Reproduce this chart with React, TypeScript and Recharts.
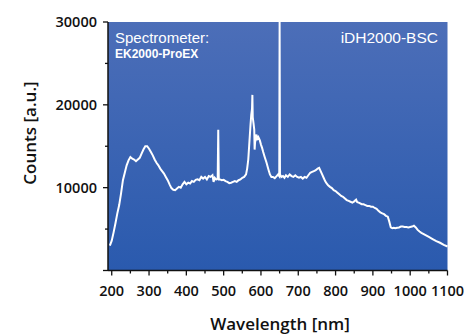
import { LineChart, Line, XAxis, YAxis, CartesianGrid } from "recharts";

// wavelength [nm] and counts
const wavelengths = [
  195, 200, 205, 210, 215, 220, 225, 230, 235, 240, 245, 250, 255, 260, 265, 270, 275, 280, 285, 290,
  295, 300, 305, 310, 315, 320, 325, 330, 335, 340, 345, 350, 355, 360, 365, 370, 375, 380, 385, 390,
  395, 400, 405, 410, 415, 420, 425, 430, 435, 440, 445, 450, 455, 460, 465, 470, 473, 476, 480, 484,
  485.5, 487, 490, 495, 500, 505, 510, 515, 520, 525, 530, 535, 540, 545, 550, 555, 560, 563, 566, 569,
  572, 574, 576, 577, 578, 580, 582, 583, 585, 588, 590, 593, 597, 600, 603, 606, 610, 615, 620, 624,
  628, 632, 637, 642, 646, 649, 650, 651, 655, 659, 663, 667, 672, 677, 682, 687, 692, 697, 702, 707,
  712, 717, 722, 727, 732, 737, 742, 747, 752, 756, 760, 764, 768, 772, 776, 780, 785, 790, 795, 800,
  805, 810, 815, 820, 825, 830, 835, 840, 845, 850, 855, 858, 862, 866, 870, 875, 880, 885, 890, 895,
  900, 905, 910, 915, 920, 925, 930, 935, 940, 944, 948, 952, 956, 960, 965, 970, 975, 980, 985, 990,
  995, 1000, 1005, 1010, 1015, 1020, 1025, 1030, 1040, 1050, 1060, 1070, 1080, 1090, 1100,
];
const counts = [
  3000, 3600, 4600, 5700, 6900, 7900, 9300, 10900, 11800, 12700, 13300, 13700, 13500, 13400, 13200, 13400, 13600, 14100, 14600, 15000,
  15000, 14700, 14300, 13900, 13400, 13000, 12700, 12300, 12000, 11700, 11300, 10900, 10400, 9950, 9750, 9700, 9900, 10100, 10000, 10400,
  10700, 10400, 10600, 10500, 10800, 10700, 10950, 11000, 10900, 11300, 11100, 11300, 11000, 11400, 11300, 11500, 10700, 11200, 11000, 11100,
  17000, 11000, 11000, 10900, 10950, 10800, 10700, 10550, 10600, 10700, 10800, 10700, 10900, 11000, 11200, 11300, 11600, 12300, 13400, 15500,
  17600, 18800, 19500, 21200, 18500, 17800, 17000, 14600, 16000, 16400, 15900, 16100, 15700, 15200, 14800, 14300, 13700, 13000, 12200, 11600,
  11300, 11300, 11150, 11400, 11600, 11400, 30000, 11600, 11300, 11400, 11200, 11500, 11300, 11600, 11400, 11300, 11500, 11300, 11200, 11300,
  11100, 11300, 11200, 11500, 11800, 11900, 12000, 12100, 12300, 12400, 12000, 11600, 11200, 10800, 10500, 10300, 10100, 9950, 9700, 9600,
  9400, 9200, 9000, 8900, 8700, 8500, 8400, 8300, 8200, 8350, 8550, 8250, 8200, 8100, 8000, 8000, 7900, 7800, 7800, 7700,
  7700, 7550, 7450, 7200, 7000, 6900, 6800, 6600, 6500, 5900, 5200, 5100, 5150, 5100, 5150, 5200, 5300, 5300, 5250, 5250,
  5200, 5250, 5300, 5400, 5200, 4900, 4700, 4550, 4300, 4050, 3800, 3550, 3350, 3100, 2900,
];
const xTicks = [200, 250, 300, 350, 400, 450, 500, 550, 600, 650, 700, 750, 800, 850, 900, 950, 1000, 1050, 1100];
const yTicks = [0, 5000, 10000, 15000, 20000, 25000, 30000];
const yLabeled = [10000, 20000, 30000];

const data = wavelengths.map((w, i) => ({ wl: w, counts: counts[i] }));

const tickFont = { fontFamily: "'Open Sans', sans-serif", fontWeight: 600, fontSize: 14.5, fill: "#111" };
const noteFont = { fontFamily: "'Liberation Sans', Arial, sans-serif", fill: "#fff" };

function XTick({ x, y, payload }: any) {
  const major = payload.value % 100 === 0;
  return (
    <g>
      <line x1={x} x2={x} y1={y} y2={y + (major ? 5 : 3)} stroke="#111" strokeWidth={1.3} />
      {major && (
        <text x={x} y={y + 25} textAnchor="middle" style={tickFont}>
          {payload.value}
        </text>
      )}
    </g>
  );
}

function YTick({ x, y, payload }: any) {
  const major = payload.value % 10000 === 0;
  return (
    <g>
      <line x1={x} x2={x - (major ? 5 : 3)} y1={y} y2={y} stroke="#111" strokeWidth={1.3} />
      {yLabeled.includes(payload.value) && (
        <text x={x - 11} y={y + 5} textAnchor="end" style={tickFont}>
          {payload.value}
        </text>
      )}
    </g>
  );
}

export default function App() {
  return (
    <div style={{ position: "absolute", left: 0, top: 0 }}>
      <LineChart width={464} height={336} data={data} margin={{ top: 22, right: 16.5, bottom: 0, left: 0 }}>
        <defs>
          <linearGradient id="bg" x1="0" y1="0" x2="0" y2="1">
            <stop offset="0%" stopColor="#4c6eb8" />
            <stop offset="100%" stopColor="#2a5aae" />
          </linearGradient>
        </defs>
        <CartesianGrid fill="url(#bg)" horizontal={false} vertical={false} />
        <XAxis
          dataKey="wl"
          type="number"
          domain={[190, 1100]}
          ticks={xTicks}
          interval={0}
          height={65.5}
          tickSize={0}
          tickMargin={0}
          tickLine={false}
          tick={<XTick />}
          axisLine={{ stroke: "#111", strokeWidth: 1.5 }}
        />
        <XAxis xAxisId="top" orientation="top" dataKey="wl" type="number" domain={[190, 1100]} height={0} tick={false} tickLine={false} axisLine={{ stroke: "#333", strokeWidth: 1 }} />
        <YAxis
          type="number"
          domain={[0, 30000]}
          ticks={yTicks}
          interval={0}
          width={108}
          tickSize={0}
          tickMargin={0}
          tickLine={false}
          tick={<YTick />}
          axisLine={{ stroke: "#111", strokeWidth: 1.5 }}
          allowDataOverflow
        />
        <YAxis yAxisId="right" orientation="right" domain={[0, 30000]} width={0} tick={false} tickLine={false} axisLine={{ stroke: "#333", strokeWidth: 1 }} />
        <Line dataKey="counts" type="linear" stroke="#fff" strokeWidth={2} dot={false} isAnimationActive={false} />
        <text x={115} y={43} style={{ ...noteFont, fontSize: 15 }}>Spectrometer:</text>
        <text x={115} y={58} style={{ ...noteFont, fontSize: 12, fontWeight: 700 }}>EK2000-ProEX</text>
        <text x={438} y={43} textAnchor="end" style={{ ...noteFont, fontSize: 15.5 }}>iDH2000-BSC</text>
        <text x={280} y={330} textAnchor="middle" style={{ ...tickFont, fontSize: 17 }}>Wavelength [nm]</text>
        <text x={36} y={133} textAnchor="middle" transform="rotate(-90 36 133)" style={{ ...tickFont, fontSize: 17 }}>Counts [a.u.]</text>
      </LineChart>
    </div>
  );
}
